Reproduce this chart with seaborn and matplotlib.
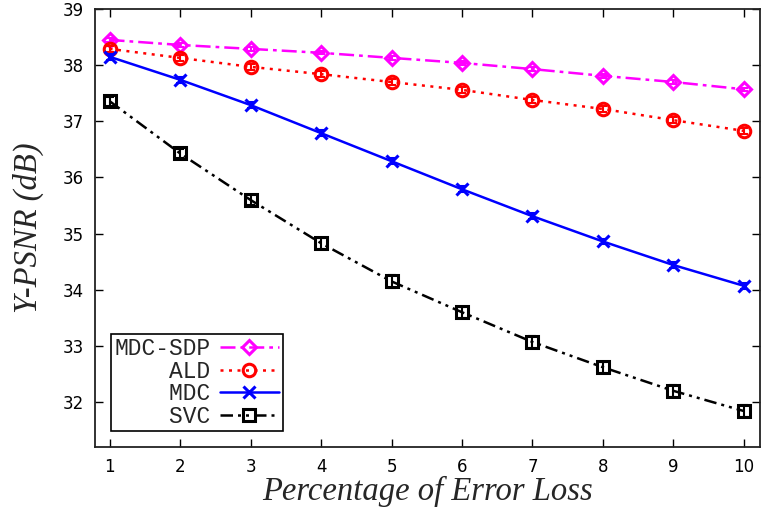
import matplotlib
matplotlib.use("Agg")
import matplotlib.pyplot as plt
import seaborn as sns
import pandas as pd
import numpy as np

loss = [1, 2, 3, 4, 5, 6, 7, 8, 9, 10]
mdc_sdp = [38.45, 38.36, 38.29, 38.22, 38.13, 38.04, 37.93, 37.81, 37.70, 37.57]
ald = [38.29, 38.13, 37.97, 37.84, 37.70, 37.56, 37.38, 37.22, 37.02, 36.83]
mdc = [38.15, 37.74, 37.29, 36.79, 36.29, 35.79, 35.31, 34.86, 34.44, 34.07]
svc = [37.36, 36.43, 35.60, 34.83, 34.15, 33.60, 33.07, 32.62, 32.20, 31.84]
err_mdc_sdp = [0.03] * 10
err_ald = [0.05] * 10
err_mdc = [0.05] * 10
err_svc = [0.08, 0.08, 0.09, 0.10, 0.11, 0.10, 0.10, 0.10, 0.11, 0.10]

series_names = ["MDC-SDP", "ALD", "MDC", "SVC"]
series_vals = [mdc_sdp, ald, mdc, svc]
series_err = [err_mdc_sdp, err_ald, err_mdc, err_svc]

sns.set_theme(style="ticks")
plt.rcParams["font.family"] = ["DejaVu Sans"]

fig = plt.figure(figsize=(7.64, 5.15), dpi=100)
ax = fig.add_axes([0.124, 0.132, 0.871, 0.8505])

styles = {
    "MDC-SDP": dict(color="#ff00ff", marker="D", ls=(0, (6, 2, 1.5, 2)), ms=7, mfc="none"),
    "ALD": dict(color="#ff0000", marker="o", ls=(0, (1.2, 2.2)), ms=9, mfc="none"),
    "MDC": dict(color="#0000ff", marker="x", ls="-", ms=9, mfc="#0000ff"),
    "SVC": dict(color="#000000", marker="s", ls=(0, (5, 2, 1.2, 2, 1.2, 2)), ms=8, mfc="none"),
}

width = max(len(n) for n in series_names)
for name, vals, err in zip(series_names, series_vals, series_err):
    st = styles[name]
    df = pd.DataFrame({"x": loss, "y": vals})
    sns.lineplot(data=df, x="x", y="y", ax=ax, color=st["color"], linestyle=st["ls"],
                 linewidth=1.8, marker=st["marker"], markersize=st["ms"],
                 markerfacecolor=st["mfc"], markeredgecolor=st["color"], markeredgewidth=2.2,
                 label=name.rjust(width))
    ax.errorbar(loss, vals, yerr=err, fmt="none", ecolor=st["color"], elinewidth=1.5,
                capsize=3, capthick=1.5)

ax.set_xlim(0.79, 10.23)
ax.set_ylim(31.2, 39)
ax.set_xticks(loss)
ax.set_yticks([32, 33, 34, 35, 36, 37, 38, 39])
ax.tick_params(direction="in", length=6, width=1, labelsize=12, top=True, right=True,
               colors="black", pad=8)
ax.tick_params(axis="x", labeltop=False)
for s in ax.spines.values():
    s.set_color("#222222")
    s.set_linewidth(1.3)

ax.set_xlabel("Percentage of Error Loss", family="Liberation Serif", style="italic",
              fontsize=23.5, labelpad=0)
ax.set_ylabel("Y-PSNR (dB)", family="Liberation Serif", style="italic",
              fontsize=23.5, labelpad=13)

leg = ax.legend(loc="lower left", bbox_to_anchor=(0.024, 0.036), markerfirst=False,
                prop={"family": "Liberation Mono", "size": 16.5}, frameon=True,
                fancybox=False, edgecolor="black", framealpha=1, labelspacing=-0.02,
                handlelength=2.6, handletextpad=0.4, borderpad=0.15, borderaxespad=0)
leg.get_frame().set_linewidth(1.2)

fig.savefig("out.png", dpi=100)
